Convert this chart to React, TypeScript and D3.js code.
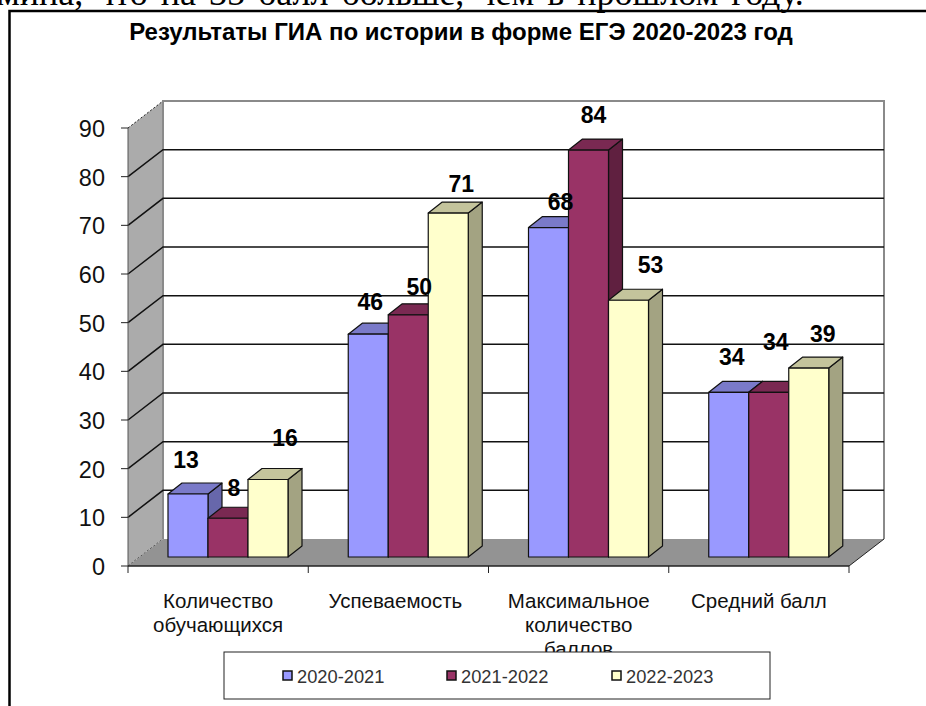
import React from "react";
import * as d3 from "d3";

const categories = ["Количество обучающихся", "Успеваемость", "Максимальное количество баллов", "Средний балл"];
const categoryLines = [["Количество", "обучающихся"], ["Успеваемость"], ["Максимальное", "количество", "баллов"], ["Средний балл"]];
const seriesNames = ["2020-2021", "2021-2022", "2022-2023"];
const values2021 = [13, 46, 68, 34];
const values2122 = [8, 50, 84, 34];
const values2223 = [16, 71, 53, 39];
const seriesValues = [values2021, values2122, values2223];
const yTicks = [0, 10, 20, 30, 40, 50, 60, 70, 80, 90];

// the value labels were dragged by hand in the original, so each has its own nudge
const labelDx = [[-2, 2, 12, 3], [6, 11, 5, 7], [17, 13, 22, 14]];
const labelDy = [[-26, -24, -18, -27], [-22, -20, -27, -42], [-33, -21, -27, -26]];

const fronts = ["#9999FF", "#993366", "#FFFFCC"];
const tops = ["#7A7AC9", "#7A2952", "#C4C49C"];
const sides = ["#6767AB", "#602040", "#A3A382"];
const labelFont = "Liberation Sans";

const depthX = 35;
const depthY = -27;
const barDepthX = 14;
const barDepthY = -11;

export default function App() {
  const x = d3.scaleBand().domain(categories).range([128, 849]);
  const inner = d3.scaleBand().domain(seriesNames).range([40, 160]);
  const y = d3.scaleLinear().domain([0, 90]).range([566, 128]);
  // bars stand midway into the floor, so they get a slightly shorter scale
  const barY = d3.scaleLinear().domain([0, 90]).range([557, 121]);
  const legendX = d3.scaleOrdinal<string, number>().domain(seriesNames).range([283, 447, 612]);

  const poly = (pts: [number, number][]) => d3.line()(pts) + "Z";
  const x0 = x.range()[0];
  const x1 = x.range()[1];
  const y0 = y(0);
  const y90 = y(90);
  const barBase = barY(0);

  return (
    <div style={{ position: "absolute", left: 0, top: 0, width: 926, height: 706, overflow: "hidden", background: "#fff" }}>
      <svg width={926} height={706} style={{ display: "block" }}>
        <defs>
          <clipPath id="pageText">
            <rect x={0} y={0} width={926} height={14} />
          </clipPath>
        </defs>
        <path d="M9.5,706V11H926" fill="none" stroke="#000" strokeWidth={2.5} />
        {/* line of the page text that the chart cuts off */}
        <text x={-3} y={5} fontFamily="Liberation Serif" fontSize={36} wordSpacing={4} fill="#000" clipPath="url(#pageText)">
          мина, что на 35 балл больше, чем в прошлом году.
        </text>

        <text x={461} y={40} textAnchor="middle" fontFamily={labelFont} fontSize={24} fontWeight="bold">
          Результаты ГИА по истории в форме ЕГЭ 2020-2023 год
        </text>

        {/* walls */}
        <path
          d={poly([[x0, y90], [x0 + depthX, y90 + depthY], [x0 + depthX, y0 + depthY], [x0, y0]])}
          fill="#ABABAB"
        />
        <line x1={x0} y1={y90} x2={x0 + depthX} y2={y90 + depthY} stroke="#222" strokeDasharray="2 2" />
        <line x1={x0} y1={y0} x2={x0 + depthX} y2={y0 + depthY} stroke="#222" strokeDasharray="2 2" />
        <path
          d={poly([[x0, y0], [x0 + depthX, y0 + depthY], [x1 + depthX, y0 + depthY], [x1, y0]])}
          fill="#939393"
        />
        <path
          d={`M${x0 + depthX},${y0 + depthY}V${y90 + depthY}H${x1 + depthX}V${y0 + depthY}`}
          fill="none"
          stroke="#8a8a8a"
          strokeWidth={2}
        />

        {/* gridlines */}
        {yTicks.slice(1, -1).map((t) => (
          <path
            key={t}
            d={`M${x0},${y(t)}L${x0 + depthX},${y(t) + depthY}H${x1 + depthX}`}
            fill="none"
            stroke="#111"
            strokeWidth={1.5}
          />
        ))}

        {/* axes */}
        <line x1={x0} y1={y90} x2={x0} y2={y0} stroke="#555" />
        <line x1={x0} y1={y0} x2={x1} y2={y0} stroke="#222" strokeWidth={1.5} />
        <line x1={x1} y1={y0} x2={x1 + depthX} y2={y0 + depthY} stroke="#222" />
        {yTicks.map((t) => (
          <g key={t}>
            <line x1={x0 - 7} y1={y(t)} x2={x0} y2={y(t)} stroke="#222" />
            <text x={x0 - 23} y={y(t) + 9} textAnchor="end" fontFamily={labelFont} fontSize={23.5} fill="#111">
              {t}
            </text>
          </g>
        ))}
        {categories.map((c) => (
          <line key={c} x1={x(c)} y1={y0} x2={x(c)} y2={y0 + 7} stroke="#222" />
        ))}
        <line x1={x1} y1={y0} x2={x1} y2={y0 + 7} stroke="#222" />

        {/* bars, drawn group by group so neighbours overlap like the original */}
        {categories.map((c, ci) =>
          seriesNames.map((s, si) => {
            const v = seriesValues[si][ci];
            const left = x(c)! + inner(s)!;
            const right = left + inner.bandwidth();
            const top = barY(v);
            return (
              <g key={s} stroke="#111" strokeWidth={1.2} strokeLinejoin="round">
                <path
                  d={poly([[right, top], [right + barDepthX, top + barDepthY], [right + barDepthX, barBase + barDepthY], [right, barBase]])}
                  fill={sides[si]}
                />
                <path
                  d={poly([[left, top], [left + barDepthX, top + barDepthY], [right + barDepthX, top + barDepthY], [right, top]])}
                  fill={tops[si]}
                />
                <rect x={left} y={top} width={inner.bandwidth()} height={barBase - top} fill={fronts[si]} />
              </g>
            );
          })
        )}

        {/* value labels */}
        {categories.map((c, ci) =>
          seriesNames.map((s, si) => {
            const v = seriesValues[si][ci];
            return (
              <text
                key={s}
                x={x(c)! + inner(s)! + inner.bandwidth() / 2 + labelDx[si][ci]}
                y={barY(v) + labelDy[si][ci]}
                textAnchor="middle"
                fontFamily={labelFont}
                fontSize={23}
                fontWeight="bold"
                fill="#000"
              >
                {v}
              </text>
            );
          })
        )}

        {/* category labels */}
        {categories.map((c, ci) =>
          categoryLines[ci].map((line, li) => (
            <text
              key={line}
              x={x(c)! + x.bandwidth() / 2 + (ci === 1 ? -3 : 0)}
              y={608 + li * 24}
              textAnchor="middle"
              fontFamily={labelFont}
              fontSize={20.5}
              fill="#111"
            >
              {line}
            </text>
          ))
        )}

        {/* legend */}
        <rect x={224} y={652} width={546} height={47} fill="#fff" stroke="#222" strokeWidth={1} />
        {seriesNames.map((s, i) => {
          const lx = legendX(s);
          return (
            <g key={s}>
              <rect x={lx} y={671} width={9} height={9} fill={fronts[i]} stroke="#111" strokeWidth={1.5} />
              <text x={lx + 14} y={683} fontFamily={labelFont} fontSize={18.3} fill="#333">
                {s}
              </text>
            </g>
          );
        })}
      </svg>
    </div>
  );
}
